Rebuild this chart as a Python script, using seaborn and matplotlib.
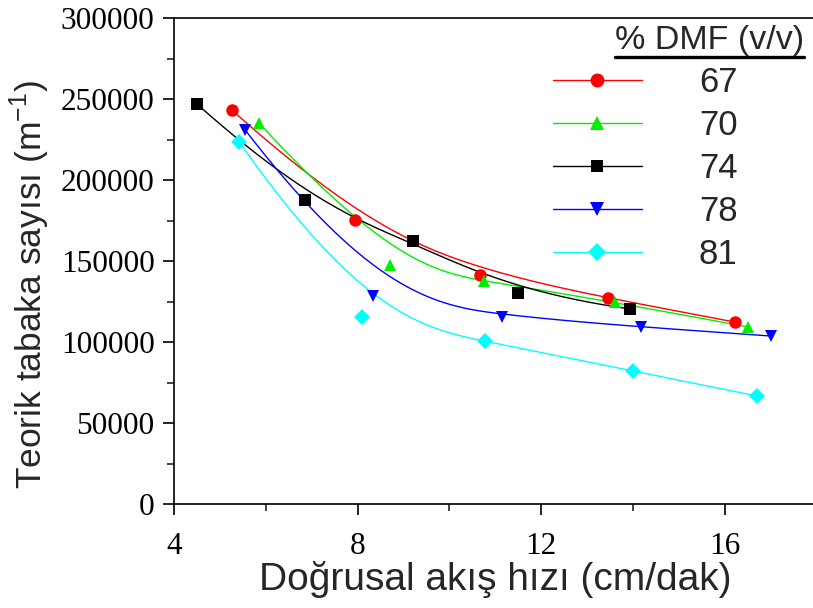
import numpy as np
import pandas as pd
import matplotlib
matplotlib.use("Agg")
import matplotlib.pyplot as plt
import seaborn as sns
from matplotlib.lines import Line2D

# ---- data ----
labels = ["67", "70", "74", "78", "81"]
x67 = [5.26, 7.94, 10.67, 13.46, 16.22]
y67 = [243200, 175300, 141400, 127200, 112300]
x70 = [5.85, 8.71, 10.75, 13.60, 16.50]
y70 = [235200, 147500, 137700, 124700, 109300]
x74 = [4.50, 6.85, 9.20, 11.50, 13.93]
y74 = [246900, 187700, 162400, 130300, 120400]
x78 = [5.55, 8.34, 11.15, 14.18, 17.00]
y78 = [230900, 128400, 115400, 109300, 103700]
x81 = [5.42, 8.10, 10.78, 14.00, 16.70]
y81 = [223500, 115500, 100600, 82100, 66700]

xs = [x67, x70, x74, x78, x81]
ys = [y67, y70, y74, y78, y81]
colors = ["#ff0000", "#00ee00", "#000000", "#0000ff", "#00ffff"]
markers = ["o", "^", "s", "v", "D"]
msizes = [9, 9, 8.5, 9, 8.5]
lmsizes = [10, 10, 9, 10, 9.5]


def bspline(px, py, k=3, n=300):
    """Clamped B-spline using the data points as control points."""
    px = np.asarray(px, float)
    py = np.asarray(py, float)
    m = len(px)
    inner = np.linspace(0, 1, m - k + 1)[1:-1]
    t = np.concatenate([np.zeros(k + 1), inner, np.ones(k + 1)])
    u = np.linspace(0, 1, n)
    u[-1] = 1 - 1e-12

    def N(i, p, uu):
        if p == 0:
            return np.where((t[i] <= uu) & (uu < t[i + 1]), 1.0, 0.0)
        a = 0.0
        b = 0.0
        if t[i + p] != t[i]:
            a = (uu - t[i]) / (t[i + p] - t[i]) * N(i, p - 1, uu)
        if t[i + p + 1] != t[i + 1]:
            b = (t[i + p + 1] - uu) / (t[i + p + 1] - t[i + 1]) * N(i + 1, p - 1, uu)
        return a + b

    B = np.array([N(i, k, u) for i in range(m)])
    return B.T @ px, B.T @ py


sns.set_style("ticks")
plt.rcParams["font.family"] = ["Liberation Sans", "DejaVu Sans"]
plt.rcParams["mathtext.fontset"] = "custom"
plt.rcParams["mathtext.rm"] = "Liberation Sans"

fig = plt.figure(figsize=(8.13, 6.08), dpi=100)
ax = fig.add_axes([174 / 813, 104 / 608, (816.6 - 174) / 813, 486 / 608])

pts_rows = []
curve_rows = []
for lab, x, y in zip(labels, xs, ys):
    for a, b in zip(x, y):
        pts_rows.append({"x": a, "y": b, "DMF": lab})
    cx, cy = bspline(x, y)
    for a, b in zip(cx, cy):
        curve_rows.append({"x": a, "y": b, "DMF": lab})
pts = pd.DataFrame(pts_rows)
curves = pd.DataFrame(curve_rows)

pal = dict(zip(labels, colors))
sns.lineplot(data=curves, x="x", y="y", hue="DMF", palette=pal, sort=False,
             estimator=None, linewidth=1.0, legend=False, ax=ax)
for lab, c, mk, ms in zip(labels, colors, markers, msizes):
    d = pts[pts["DMF"] == lab]
    ax.plot(d["x"], d["y"], linestyle="none", marker=mk, color=c,
            markersize=ms, markeredgewidth=0, zorder=3)

ax.set_xlim(4, 18)
ax.set_ylim(0, 300000)
ax.set_xticks([4, 8, 12, 16])
ax.set_xticks([6, 10, 14], minor=True)
ax.set_yticks(np.arange(0, 300001, 50000))
ax.set_yticks(np.arange(25000, 300000, 50000), minor=True)
ax.set_yticklabels([f"{int(v)}" for v in np.arange(0, 300001, 50000)])

for s in ["left", "bottom", "top"]:
    ax.spines[s].set_linewidth(1.2)
    ax.spines[s].set_color("black")
ax.spines["right"].set_visible(False)

ax.tick_params(which="major", direction="out", length=8, width=1.2,
               labelsize=22.5, colors="black")
ax.tick_params(axis="x", which="major", pad=12)
ax.tick_params(axis="y", which="major", pad=6)
ax.tick_params(which="minor", direction="out", length=5, width=1.2)
for lbl in ax.get_xticklabels() + ax.get_yticklabels():
    lbl.set_fontfamily("Liberation Serif")

ax.set_xlabel("Doğrusal akış hızı (cm/dak)", fontsize=28, labelpad=0)
ax.set_ylabel("Teorik tabaka sayısı (m$^{-1}$)", fontsize=25.5, labelpad=8)
ax.yaxis.set_label_coords(-0.19, 0.452, transform=ax.transAxes)

handles = [Line2D([0], [0], color=c, marker=mk, markersize=ms, linewidth=1.0,
                  markeredgewidth=0)
           for c, mk, ms in zip(colors, markers, lmsizes)]
leg = ax.legend(handles, labels, loc="upper left",
                bbox_to_anchor=(553 / 813, 1 - 66 / 608),
                bbox_transform=fig.transFigure,
                frameon=False, fontsize=25, handlelength=2.55,
                handletextpad=1.65, labelspacing=0.29, borderpad=0,
                borderaxespad=0, handleheight=0.7)

# legend title with underline
title = fig.text(804 / 813, 1 - 41 / 608, "% DMF (v/v)", fontsize=24.5,
                 ha="right", va="center")
fig.canvas.draw()
bb = title.get_window_extent(fig.canvas.get_renderer())
yline = 608 - 57
fig.add_artist(Line2D([bb.x0 / 813, bb.x1 / 813], [yline / 608, yline / 608],
                      transform=fig.transFigure, color="black", linewidth=2.4))

fig.savefig("out.png", dpi=100)
